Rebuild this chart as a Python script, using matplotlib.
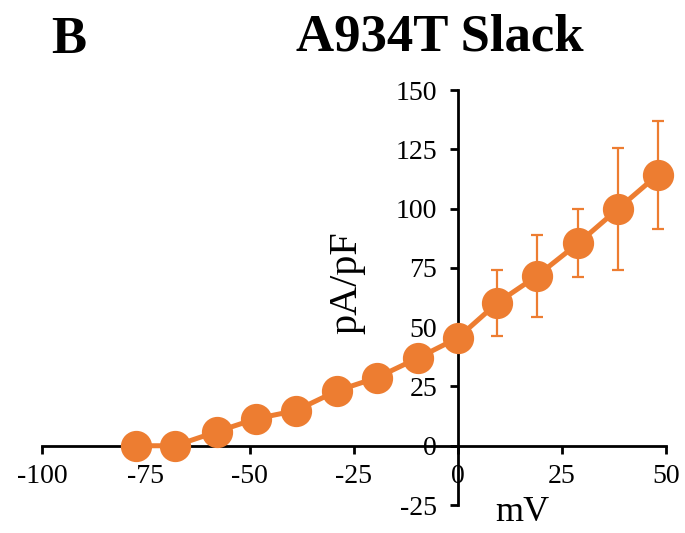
import numpy as np
import matplotlib.pyplot as plt

plt.rcParams['font.family'] = ['Liberation Serif', 'DejaVu Serif']
plt.rcParams['axes.unicode_minus'] = False

# I-V data: membrane voltage (mV) vs current density (pA/pF)
mv = [-77.5, -68, -58, -48.5, -39, -29, -19.5, -9.5, 0, 9.5, 19, 29, 38.5, 48]
density = [0, 0, 5.9, 11.4, 14.8, 23.2, 28.7, 37.1, 45.5, 60.3, 71.6, 85.5, 99.9, 114.2]
sem = [0, 0, 0, 0, 0, 0, 0, 0, 0, 14.0, 17.3, 14.4, 25.7, 22.8]

orange = '#ED7D31'

fig = plt.figure(figsize=(6.85, 5.33), dpi=100)
ax = fig.add_axes([0.0613, 0.0525, 0.9107, 0.7785])

ax.errorbar(mv, density, yerr=sem, fmt='none', ecolor=orange,
            elinewidth=1.6, capsize=4, capthick=1.6, zorder=2)
ax.plot(mv, density, color=orange, lw=3.6, marker='o', ms=21.5,
        mec=orange, mfc=orange, zorder=3, clip_on=False)

ax.set_xlim(-100, 50)
ax.set_ylim(-25, 150)
ax.set_xticks(np.arange(-100, 51, 25))
ax.set_yticks(np.arange(-25, 151, 25))

# cross the axes at the origin
ax.spines['left'].set_position(('data', 0))
ax.spines['bottom'].set_position(('data', 0))
ax.spines['right'].set_visible(False)
ax.spines['top'].set_visible(False)
for s in ('left', 'bottom'):
    ax.spines[s].set_linewidth(2)
    ax.spines[s].set_zorder(1)
ax.tick_params(direction='out', length=6, width=2, labelsize=20)
ax.tick_params(axis='y', pad=9)
ax.tick_params(axis='x', pad=7)
ax.patch.set_visible(False)

fig.text(0.507, 0.469, 'pA/pF', rotation=90, fontsize=29,
         ha='center', va='center')
fig.text(0.762, 0.008, 'mV', fontsize=26, ha='center', va='bottom')

fig.text(0.642, 0.93, 'A934T Slack', fontsize=38, fontweight='bold',
         ha='center', va='center')
fig.text(0.1, 0.925, 'B', fontsize=38, fontweight='bold',
         ha='center', va='center')

fig.savefig('out.png', dpi=100)
